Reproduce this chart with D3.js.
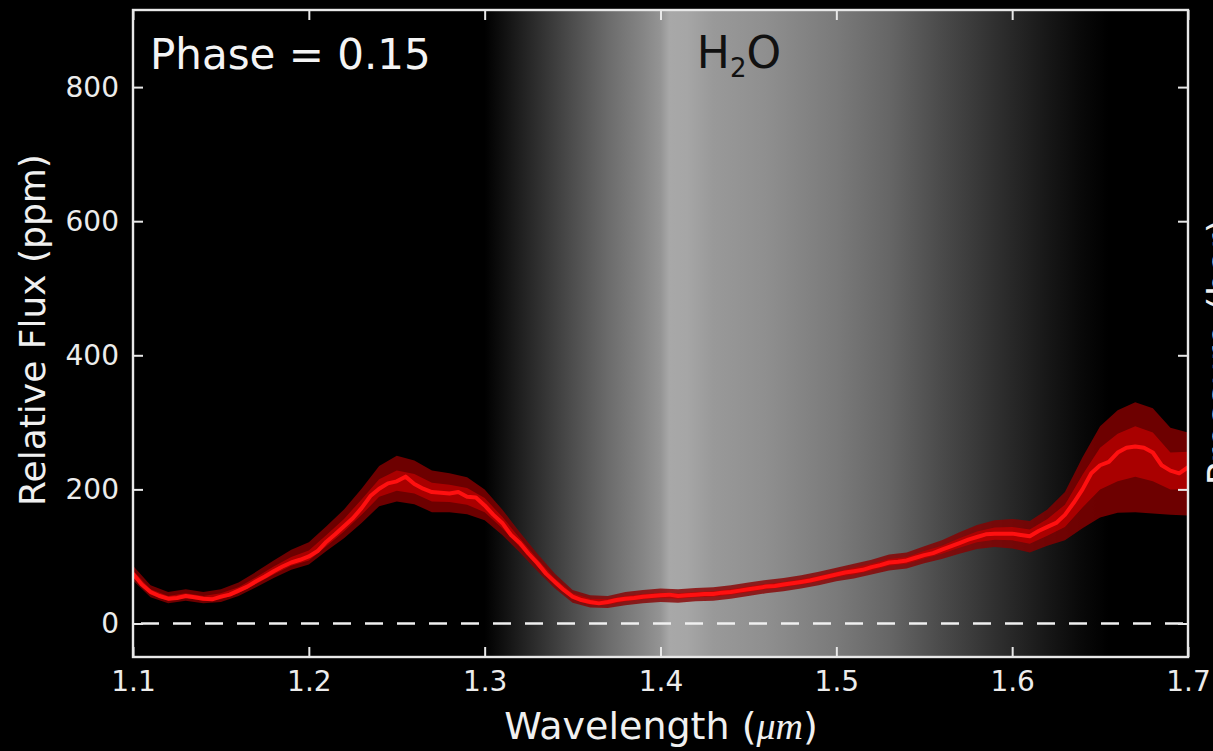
<!DOCTYPE html>
<html>
<head>
<meta charset="utf-8">
<script src="https://cdn.jsdelivr.net/npm/d3@7"></script>
<style>
  html, body { margin: 0; padding: 0; background: #000; }
  svg { display: block; }
</style>
</head>
<body>
<svg id="chart" width="1213" height="751"></svg>
<script>
// Median relative flux (ppm) on a 0.005 µm grid, 1.100–1.700 µm
const medianStart = 1.10, medianStep = 0.005;
const medianFlux = [
  74, 58, 47, 41, 37, 38, 41, 39, 37, 36,
  40, 43, 49, 55, 63, 70, 78, 85, 91, 95,
  100, 108, 122, 133, 145, 157, 172, 190, 201, 209,
  212, 219, 208, 201, 196, 195, 194, 196, 189, 188,
  176, 162, 150, 132, 120, 104, 90, 74, 62, 50,
  40, 35, 32, 30, 32, 35, 37, 38, 40, 41,
  42, 43, 41, 42, 43, 44, 44, 46, 47, 49,
  51, 53, 55, 56, 58, 60, 62, 64, 67, 70,
  73, 76, 78, 80, 84, 87, 91, 92, 94, 98,
  102, 105, 110, 115, 120, 125, 129, 133, 134, 134,
  134, 132, 130, 138, 144, 150, 162, 180, 200, 224,
  236, 241, 255, 262, 264, 262, 255, 236, 228, 224,
  233
];

// Credible-interval envelopes on a 0.01 µm grid, 1.10–1.70 µm
const bandStart = 1.10, bandStep = 0.01;
const outerHi = [
  86, 57, 47, 51, 47, 51, 61, 77, 94, 110,
  121, 145, 170, 201, 235, 250, 243, 228, 224, 218,
  200, 170, 136, 104, 74, 50, 42, 41, 47, 50,
  52, 51, 53, 54, 57, 61, 65, 68, 72, 77,
  83, 89, 95, 103, 106, 115, 124, 136, 147, 154,
  156, 153, 170, 196, 248, 294, 318, 330, 321, 292,
  285
];
const outerLo = [
  64, 39, 30, 34, 30, 32, 41, 54, 68, 80,
  88, 108, 127, 150, 175, 182, 178, 166, 166, 163,
  154, 132, 106, 78, 52, 31, 24, 23, 27, 30,
  32, 31, 33, 34, 37, 41, 45, 48, 52, 57,
  63, 67, 73, 79, 82, 90, 96, 104, 111, 114,
  112, 106, 116, 124, 142, 158, 165, 166, 164, 162,
  161
];
const innerHi = [
  79, 51, 41, 45, 41, 45, 54, 69, 85, 99,
  109, 132, 156, 185, 215, 228, 223, 210, 207, 202,
  187, 159, 127, 96, 67, 45, 37, 36, 41, 44,
  46, 45, 47, 48, 51, 55, 59, 62, 66, 71,
  77, 83, 89, 96, 99, 108, 116, 127, 137, 143,
  144, 140, 156, 177, 222, 262, 283, 294, 285, 255,
  256
];
const innerLo = [
  69, 43, 34, 38, 34, 36, 45, 59, 73, 86,
  94, 115, 137, 162, 189, 198, 194, 182, 181, 177,
  166, 142, 114, 85, 57, 36, 28, 28, 33, 36,
  38, 37, 39, 40, 43, 47, 51, 54, 58, 63,
  69, 73, 79, 86, 89, 97, 104, 113, 121, 125,
  124, 119, 131, 144, 173, 200, 212, 219, 212, 200,
  200
];

// H2O absorption band shading: wavelength (µm) and grey level (0–1)
const h2oWavelength = [1.300, 1.310, 1.330, 1.350, 1.370, 1.390, 1.400, 1.405, 1.415, 1.430, 1.460, 1.500, 1.530, 1.560, 1.590, 1.620, 1.640, 1.655];
const h2oLevel      = [0.00,  0.06,  0.18,  0.30,  0.42,  0.52,  0.58,  0.66,  0.65,  0.60,  0.56,  0.48,  0.40,  0.29,  0.19,  0.09,  0.03,  0.00];

const xTicks = [1.1, 1.2, 1.3, 1.4, 1.5, 1.6, 1.7];
const yTicks = [0, 200, 400, 600, 800];
const xDomain = [1.1, 1.7];
const yDomain = [-50, 915];
const phaseLabel = "Phase = 0.15";

// Layout
const W = 1213, H = 751;
const plot = { left: 133, right: 1188, top: 10, bottom: 657 };

const svg = d3.select("#chart");
svg.append("rect").attr("width", W).attr("height", H).attr("fill", "#000");

const x = d3.scaleLinear().domain(xDomain).range([plot.left, plot.right]);
const y = d3.scaleLinear().domain(yDomain).range([plot.bottom, plot.top]);

const defs = svg.append("defs");
defs.append("clipPath").attr("id", "plotClip")
  .append("rect")
  .attr("x", plot.left).attr("y", plot.top)
  .attr("width", plot.right - plot.left).attr("height", plot.bottom - plot.top);

// Grey gradient for the water band, positioned through the x scale
const grad = defs.append("linearGradient")
  .attr("id", "h2oGrad")
  .attr("gradientUnits", "userSpaceOnUse")
  .attr("x1", x(h2oWavelength[0])).attr("x2", x(h2oWavelength[h2oWavelength.length - 1]))
  .attr("y1", 0).attr("y2", 0);
const w0 = h2oWavelength[0], w1 = h2oWavelength[h2oWavelength.length - 1];
h2oWavelength.forEach((w, i) => {
  const g = Math.round(h2oLevel[i] * 255);
  grad.append("stop")
    .attr("offset", ((w - w0) / (w1 - w0)))
    .attr("stop-color", d3.rgb(g, g, g).formatHex());
});

const body = svg.append("g").attr("clip-path", "url(#plotClip)");

body.append("rect")
  .attr("x", x(w0)).attr("y", plot.top)
  .attr("width", x(w1) - x(w0)).attr("height", plot.bottom - plot.top)
  .attr("fill", "url(#h2oGrad)");

// Zero reference line
body.append("line")
  .attr("x1", plot.left).attr("x2", plot.right)
  .attr("y1", y(0)).attr("y2", y(0))
  .attr("stroke", "#f0f0f0").attr("stroke-width", 2.5)
  .attr("stroke-dasharray", "18,14")
  .attr("stroke-dashoffset", -8);

// Envelopes
const bandWl = outerHi.map((_, i) => bandStart + i * bandStep);
const area = (lo, hi) => d3.area()
  .x((d, i) => x(bandWl[i]))
  .y0((d, i) => y(lo[i]))
  .y1((d, i) => y(hi[i]))
  .curve(d3.curveLinear)(bandWl);

body.append("path")
  .attr("d", area(outerLo, outerHi))
  .attr("fill", "#880000").attr("fill-opacity", 0.8);
body.append("path")
  .attr("d", area(innerLo, innerHi))
  .attr("fill", "#c00000").attr("fill-opacity", 0.72);

// Median spectrum
const medWl = medianFlux.map((_, i) => medianStart + i * medianStep);
body.append("path")
  .datum(medianFlux)
  .attr("d", d3.line().x((d, i) => x(medWl[i])).y(d => y(d)))
  .attr("fill", "none")
  .attr("stroke", "#ff1010")
  .attr("stroke-width", 4)
  .attr("stroke-linejoin", "round");

// Axes with inward ticks on all four sides
const axisColor = "#e8e8e8";
const tickLen = 10;
function styleAxis(g) {
  g.select(".domain").remove();
  g.selectAll(".tick line").attr("stroke", axisColor).attr("stroke-width", 2);
  g.selectAll(".tick text")
    .attr("fill", "#ececec")
    .attr("font-family", "DejaVu Sans, sans-serif")
    .attr("font-size", 28);
}

svg.append("g")
  .attr("transform", `translate(0,${plot.bottom})`)
  .call(d3.axisBottom(x).tickValues(xTicks).tickSizeInner(-tickLen).tickSizeOuter(0).tickPadding(14).tickFormat(d3.format(".1f")))
  .call(styleAxis);

svg.append("g")
  .attr("transform", `translate(0,${plot.top})`)
  .call(d3.axisTop(x).tickValues(xTicks).tickSizeInner(-tickLen).tickSizeOuter(0).tickFormat(""))
  .call(styleAxis);

svg.append("g")
  .attr("transform", `translate(${plot.left},0)`)
  .call(d3.axisLeft(y).tickValues(yTicks).tickSizeInner(-tickLen).tickSizeOuter(0).tickPadding(14).tickFormat(d3.format("d")))
  .call(styleAxis);

svg.append("g")
  .attr("transform", `translate(${plot.right},0)`)
  .call(d3.axisRight(y).tickValues(yTicks).tickSizeInner(-tickLen).tickSizeOuter(0).tickFormat(""))
  .call(styleAxis);

// Frame
svg.append("rect")
  .attr("x", plot.left).attr("y", plot.top)
  .attr("width", plot.right - plot.left).attr("height", plot.bottom - plot.top)
  .attr("fill", "none").attr("stroke", axisColor).attr("stroke-width", 2.4);

// Labels
const font = "DejaVu Sans, sans-serif";

svg.append("text")
  .attr("x", 150).attr("y", 69)
  .attr("font-family", font).attr("font-size", 42)
  .attr("fill", "#f4f4f4")
  .text(phaseLabel);

const h2o = svg.append("text")
  .attr("x", 739).attr("y", 68)
  .attr("text-anchor", "middle")
  .attr("font-family", font).attr("font-size", 44)
  .attr("fill", "#111");
h2o.append("tspan").text("H");
h2o.append("tspan").attr("font-size", 26).attr("dy", 9).text("2");
h2o.append("tspan").attr("dy", -9).text("O");

const xl = svg.append("text")
  .attr("x", 661).attr("y", 739)
  .attr("text-anchor", "middle")
  .attr("font-family", font).attr("font-size", 38)
  .attr("fill", "#f0f0f0");
xl.append("tspan").text("Wavelength (");
xl.append("tspan").attr("font-family", "Liberation Serif, DejaVu Serif, serif").attr("font-style", "italic").text("μm");
xl.append("tspan").text(")");

svg.append("text")
  .attr("transform", `translate(45,330) rotate(-90)`)
  .attr("text-anchor", "middle")
  .attr("font-family", font).attr("font-size", 36)
  .attr("fill", "#f0f0f0")
  .text("Relative Flux (ppm)");

svg.append("text")
  .attr("transform", `translate(1234,352) rotate(-90)`)
  .attr("text-anchor", "middle")
  .attr("font-family", font).attr("font-size", 38)
  .attr("fill", "#f0f0f0")
  .text("Pressure (bar)");
</script>
</body>
</html>
